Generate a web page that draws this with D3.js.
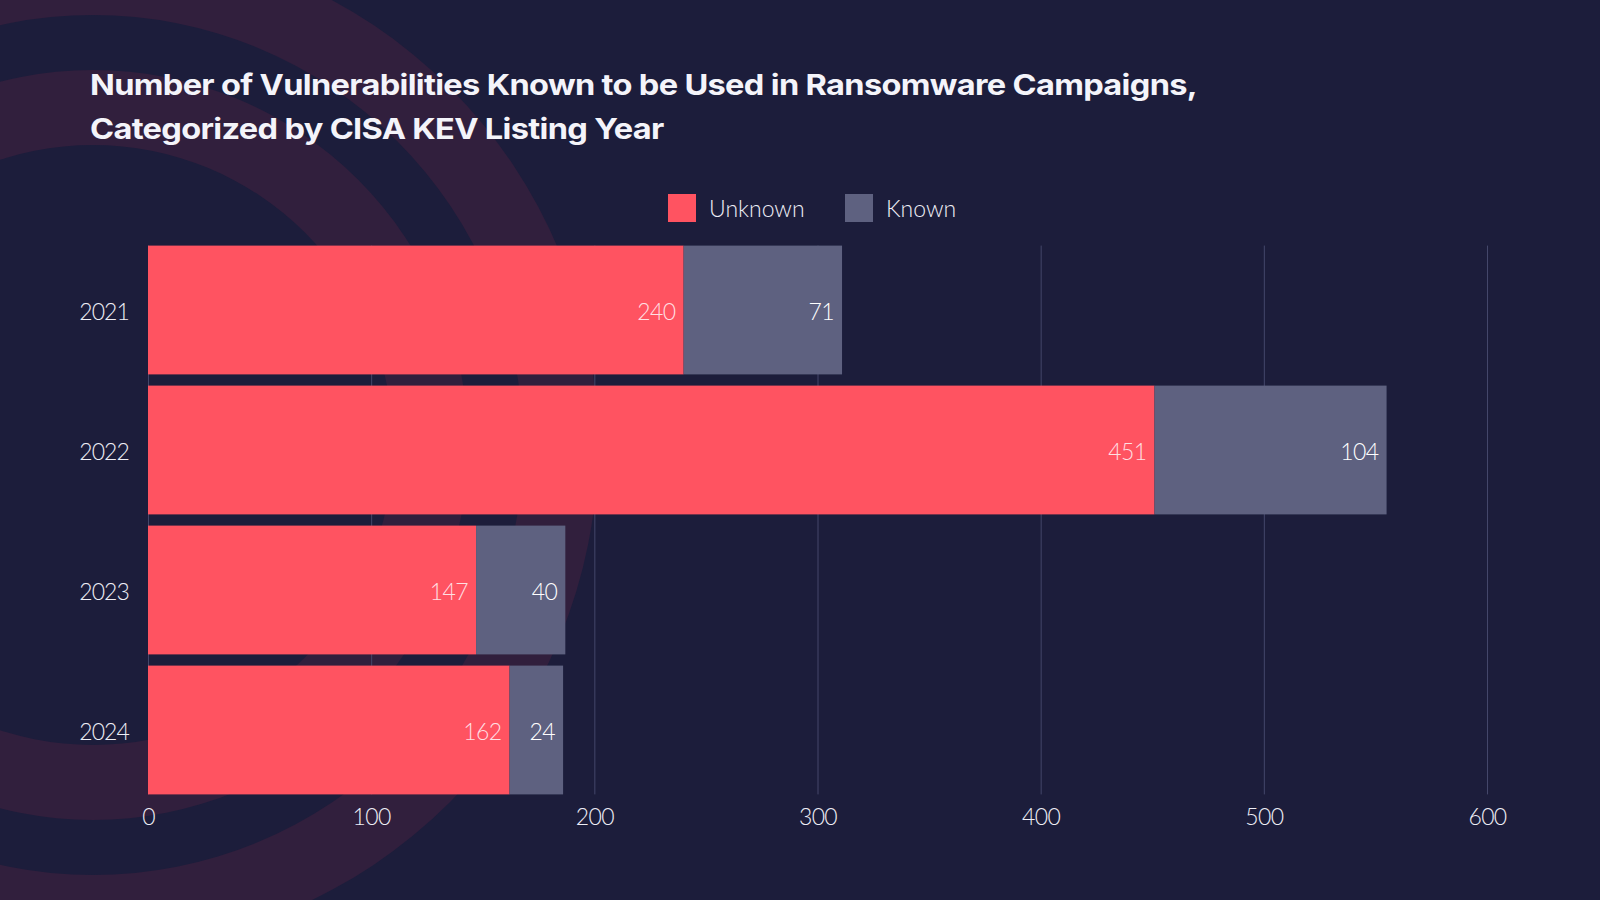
<!DOCTYPE html>
<html>
<head>
<meta charset="utf-8">
<script src="https://cdn.jsdelivr.net/npm/d3@7"></script>
<style>
  html, body { margin: 0; padding: 0; background: #1c1d3b; }
  svg { display: block; }
</style>
</head>
<body>
<svg id="chart" width="1600" height="900"></svg>
<script>
// ---- data ----
const years = ["2021", "2022", "2023", "2024"];
const unknownValues = [240, 451, 147, 162];
const knownValues = [71, 104, 40, 24];
const seriesNames = ["Unknown", "Known"];
const xTickValues = [0, 100, 200, 300, 400, 500, 600];
const titleLines = [
  "Number of Vulnerabilities Known to be Used in Ransomware Campaigns,",
  "Categorized by CISA KEV Listing Year"
];

(function () {
// ---- styles ----
const W = 1600, H = 900;
const BG = "#1c1d3b";
const RING = "#311f3d";
const RED = "#ff5361";
const GREY = "#5e6180";
const GRID = "#44476a";
const TEXT = "#eeeef6";
const LIGHTFONT = "Lato, 'Open Sans', sans-serif";

const svg = d3.select("#chart");
svg.append("rect").attr("width", W).attr("height", H).attr("fill", BG);

// decorative concentric rings
const rings = [[300, 375], [430, 505]];
const ringG = svg.append("g").attr("transform", "translate(93,445)");
ringG.selectAll("path").data(rings).join("path")
  .attr("d", d => d3.arc()({innerRadius: d[0], outerRadius: d[1], startAngle: 0, endAngle: 2 * Math.PI}))
  .attr("fill", RING);

// title
const title = svg.append("g");
titleLines.forEach((t, i) => {
  title.append("text")
    .attr("x", 90).attr("y", 95 + i * 44)
    .attr("fill", "#f4f4fa")
    .attr("font-family", "Inter, Lato, sans-serif")
    .attr("font-weight", 650)
    .attr("font-size", 29)
    .attr("letter-spacing", -0.6)
    .text(t);
});
// fit first line to reference width
const tnodes = title.selectAll("text").nodes();
const w0 = tnodes[0].getComputedTextLength();
const target = 1107;
if (Math.abs(w0 - target) > 4) {
  const r = target / w0;
  tnodes.forEach(n => {
    const w = n.getComputedTextLength();
    n.setAttribute("textLength", w * r);
    n.setAttribute("lengthAdjust", "spacingAndGlyphs");
  });
}

// scales
const x = d3.scaleLinear().domain([0, 600]).range([148, 1487]);
const y = d3.scaleBand().domain(years).range([240, 800]).paddingInner(0.08).paddingOuter(0.04);

const plotTop = y(years[0]);
const plotBottom = y(years[years.length - 1]) + y.bandwidth();

// gridlines + tick labels via axis
const xAxis = d3.axisBottom(x).tickValues(xTickValues).tickSize(-(plotBottom - plotTop)).tickPadding(14).tickFormat(d3.format("d"));
const gx = svg.append("g").attr("transform", `translate(0,${plotBottom})`).call(xAxis);
gx.select(".domain").remove();
gx.selectAll(".tick line").attr("stroke", GRID).attr("stroke-width", 1);
gx.selectAll(".tick text")
  .attr("fill", TEXT).attr("font-family", LIGHTFONT).attr("font-weight", 300).attr("font-size", 23)
  .attr("letter-spacing", -0.6);

// y axis labels
const yAxis = d3.axisLeft(y).tickSize(0).tickPadding(19);
const gy = svg.append("g").attr("transform", `translate(${x(0)},0)`).call(yAxis);
gy.select(".domain").remove();
gy.selectAll(".tick text")
  .attr("fill", TEXT).attr("font-family", LIGHTFONT).attr("font-weight", 300).attr("font-size", 23)
  .attr("letter-spacing", -0.9).attr("dy", "0.42em");

// stacked bars
const rows = years.map((yr, i) => ({year: yr, Unknown: unknownValues[i], Known: knownValues[i]}));
const stack = d3.stack().keys(seriesNames)(rows);
const color = d3.scaleOrdinal().domain(seriesNames).range([RED, GREY]);
const labelColor = d3.scaleOrdinal().domain(seriesNames).range(["#ffdfe2", "#ffffff"]);

const layers = svg.append("g").selectAll("g").data(stack).join("g").attr("fill", d => color(d.key));
layers.selectAll("rect").data(d => d).join("rect")
  .attr("x", d => x(d[0]))
  .attr("y", d => y(d.data.year))
  .attr("width", d => x(d[1]) - x(d[0]))
  .attr("height", y.bandwidth());

// value labels
const labG = svg.append("g");
stack.forEach(layer => {
  labG.append("g").selectAll("text").data(layer).join("text")
    .attr("x", d => x(d[1]) - 8)
    .attr("y", d => y(d.data.year) + y.bandwidth() / 2)
    .attr("dy", "0.42em")
    .attr("text-anchor", "end")
    .attr("fill", labelColor(layer.key))
    .attr("font-family", LIGHTFONT)
    .attr("font-weight", 300)
    .attr("font-size", 23)
    .attr("letter-spacing", -0.6)
    .text(d => d.data[layer.key]);
});

// legend
const legendX = [668, 845];
const leg = svg.append("g");
seriesNames.forEach((s, i) => {
  leg.append("rect").attr("x", legendX[i]).attr("y", 194).attr("width", 28).attr("height", 28)
    .attr("fill", color(s));
  leg.append("text").attr("x", legendX[i] + 41).attr("y", 208).attr("dy", "0.4em")
    .attr("fill", TEXT).attr("font-family", LIGHTFONT).attr("font-weight", 300).attr("font-size", 23)
    .text(s);
});
})();
</script>
</body>
</html>
